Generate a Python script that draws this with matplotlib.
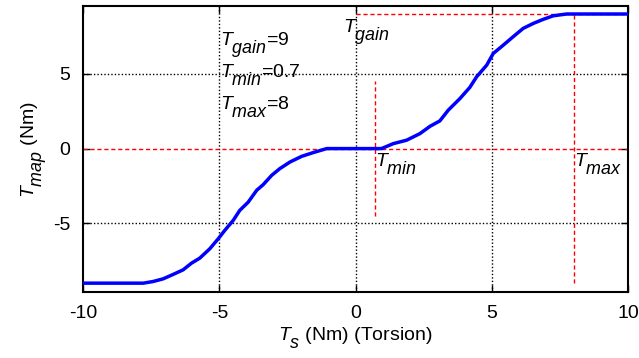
import matplotlib
matplotlib.use("Agg")
import matplotlib.pyplot as plt
try:
    import matplotlib._mathtext as _mt
    _mt.SHRINK_FACTOR = 0.92
    _mt.FontConstantsBase.sub1 = 0.85
except Exception:
    pass

plt.rcParams['font.family'] = ['Liberation Sans', 'DejaVu Sans']
plt.rcParams['mathtext.fontset'] = 'custom'
plt.rcParams['mathtext.rm'] = 'Liberation Sans'
plt.rcParams['mathtext.it'] = 'Liberation Sans:italic'

# Curve data
ts = [-10, -8.28, -7.79, -7.43, -7.06, -6.70, -6.33, -6.02, -5.72, -5.35, -5.04, -4.80,
      -4.49, -4.25, -3.94, -3.63, -3.39, -3.08, -2.78, -2.41, -1.98, -1.56, -1.06,
      0.95, 1.38, 1.87, 2.36, 2.73, 3.09, 3.40, 3.83, 4.19, 4.44, 4.81, 5.05, 5.42,
      5.78, 6.15, 6.52, 6.88, 7.25, 7.74, 10]
tmap = [-9.0, -9.0, -9.0, -8.89, -8.71, -8.42, -8.11, -7.66, -7.33, -6.70, -6.03, -5.47,
        -4.80, -4.13, -3.58, -2.79, -2.41, -1.79, -1.34, -0.90, -0.52, -0.27, 0.0,
        0.0, 0.33, 0.56, 1.0, 1.49, 1.85, 2.57, 3.35, 4.09, 4.80, 5.58, 6.36, 6.92,
        7.48, 8.04, 8.37, 8.64, 8.88, 9.0, 9.0]

t_gain = 9
t_min = 0.7
t_max = 8

xticks = [-10, -5, 0, 5, 10]
yticks = [-5, 0, 5]

fig = plt.figure(figsize=(6.39, 3.58), dpi=100)
ax = fig.add_axes([0.130, 0.184, 0.853, 0.799])

ax.set_xlim(-10, 10)
ax.set_ylim(-9.6, 9.53)
ax.set_xticks(xticks)
ax.set_yticks(yticks)
ax.set_xticklabels([str(v) for v in xticks])
ax.set_yticklabels([str(v) for v in yticks])
ax.tick_params(direction='in', top=True, right=True, labelsize=14, length=5, width=1, pad=9)
for s in ax.spines.values():
    s.set_linewidth(1.5)

# grid
for xv in [-5, 0, 5]:
    ax.axvline(xv, color='black', linestyle=(0, (1, 1.5)), linewidth=1, zorder=1)
for yv in [-5, 5]:
    ax.axhline(yv, color='black', linestyle=(0, (1, 1.5)), linewidth=1, zorder=1)

# red dashed reference lines
ax.axhline(0, color='red', linestyle=(0, (3, 2)), linewidth=1, zorder=2)
ax.plot([0, 10], [t_gain, t_gain], color='red', linestyle=(0, (3, 2)), linewidth=1, zorder=2)
ax.plot([t_min, t_min], [-4.5, 4.55], color='red', linestyle=(0, (3, 2)), linewidth=1, zorder=2)
ax.plot([t_max, t_max], [-9.0, t_gain], color='red', linestyle=(0, (3, 2)), linewidth=1, zorder=2)

ax.plot(ts, tmap, color='blue', linewidth=2.5, zorder=3)

fs = 14
ax.text(-4.97, 6.92, r'$T_{gain}$=9', fontsize=fs, va='baseline', ha='left')
ax.text(-4.97, 4.78, r'$T_{min}$=0.7', fontsize=fs, va='baseline', ha='left')
ax.text(-4.97, 2.63, r'$T_{max}$=8', fontsize=fs, va='baseline', ha='left')
ax.text(-0.47, 7.79, r'$T_{gain}$', fontsize=fs, va='baseline', ha='left')
ax.text(0.73, -1.23, r'$T_{min}$', fontsize=fs, va='baseline', ha='left')
ax.text(8.01, -1.23, r'$T_{max}$', fontsize=fs, va='baseline', ha='left')

ax.set_xlabel(r'$T_s$ (Nm) (Torsion)', fontsize=fs, labelpad=3)
ax.set_ylabel(r'$T_{map}$ (Nm)', fontsize=fs, labelpad=3)

fig.savefig('out.png', dpi=100)
